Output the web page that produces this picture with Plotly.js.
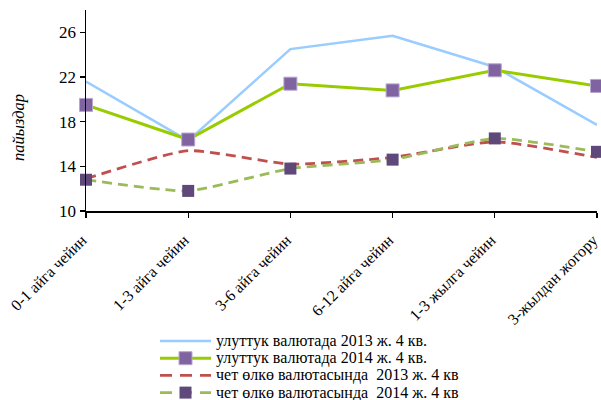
<!DOCTYPE html>
<html>
<head>
<meta charset="utf-8">
<script src="https://cdn.plot.ly/plotly-3.0.1.min.js"></script>
<style>
  html, body { margin: 0; padding: 0; background: #fff; }
  #chart { width: 601px; height: 400px; }
</style>
</head>
<body>
<div id="chart"></div>
<script>
// Maturity buckets
var categories = ['0-1 айга чейин', '1-3 айга чейин', '3-6 айга чейин',
                  '6-12 айга чейин', '1-3 жылга чейин', '3-жылдан жогору'];

// Interest rates, %
var national2013 = [21.6, 16.3, 24.5, 25.7, 22.9, 17.7];
var national2014 = [19.5, 16.4, 21.4, 20.8, 22.6, 21.2];
var foreign2013  = [12.9, 15.4, 14.2, 14.8, 16.2, 14.8];
var foreign2014  = [12.8, 11.8, 13.8, 14.6, 16.5, 15.3];

var seriesNames = [
  'улуттук валютада 2013 ж. 4 кв.',
  'улуттук валютада 2014 ж. 4 кв.',
  'чет өлкө валютасында  2013 ж. 4 кв',
  'чет өлкө валютасында  2014 ж. 4 кв'
];

var yTicks = [10, 14, 18, 22, 26];
var yTitle = 'пайыздар';

var FONT = 'Liberation Serif';
var DASH = '10px,6px';

var styles = [
  {line: {color: '#99CCFF', width: 2.5}, marker: null},
  {line: {color: '#99CC00', width: 3}, marker: {symbol: 'square', size: 13, color: '#8064A2', line: {color: '#B7A6CF', width: 1}}},
  {line: {color: '#C0504D', width: 2.8, dash: DASH, shape: 'spline', smoothing: 0.5}, marker: null},
  {line: {color: '#9BBB59', width: 2.8, dash: DASH, shape: 'spline', smoothing: 0.5}, marker: {symbol: 'square', size: 12, color: '#5F497A', line: {width: 0}}}
];

var seriesValues = [national2013, national2014, foreign2013, foreign2014];

var traces = seriesValues.map(function (vals, i) {
  var s = styles[i];
  var t = {
    x: categories, y: vals, name: seriesNames[i], type: 'scatter',
    mode: s.marker ? 'lines+markers' : 'lines',
    line: s.line, cliponaxis: false, showlegend: false
  };
  if (s.marker) t.marker = s.marker;
  return t;
});

// Plot area geometry in pixels (for placing the legend block below the axis)
var W = 601, H = 400;
var M = {l: 86, r: 4, t: 10, b: 189};
var plotW = W - M.l - M.r, plotH = H - M.t - M.b;
function px2x(px) { return (px - M.l) / plotW; }
function py2y(py) { return (H - M.b - py) / plotH; }

// Legend block: line sample, optional marker sample, label
var shapes = [], annotations = [];
var legX0 = 160, legX1 = 211, legTextX = 215, legY0 = 341, legStep = 17.2;
seriesNames.forEach(function (name, i) {
  var s = styles[i];
  var y = legY0 + i * legStep;
  shapes.push({
    type: 'line', xref: 'paper', yref: 'paper',
    x0: px2x(legX0), x1: px2x(legX1), y0: py2y(y), y1: py2y(y),
    line: {color: s.line.color, width: s.line.width, dash: s.line.dash ? '12px,8px' : 'solid'}
  });
  if (s.marker) {
    var h = s.marker.size / 2, cx = (legX0 + legX1) / 2;
    shapes.push({
      type: 'rect', xref: 'paper', yref: 'paper',
      x0: px2x(cx - h), x1: px2x(cx + h), y0: py2y(y - h), y1: py2y(y + h),
      fillcolor: s.marker.color,
      line: {color: s.marker.line.color || s.marker.color, width: s.marker.line.width || 0}
    });
  }
  annotations.push({
    xref: 'paper', yref: 'paper', x: px2x(legTextX), y: py2y(y),
    xanchor: 'left', yanchor: 'middle', showarrow: false, borderpad: 0,
    text: name, font: {family: FONT, size: 16, color: '#000'}
  });
});

// Vertical axis caption
annotations.push({
  xref: 'paper', yref: 'paper', x: px2x(18), y: py2y(128),
  xanchor: 'center', yanchor: 'middle', showarrow: false, textangle: -90,
  text: '<i>' + yTitle + '</i>', font: {family: FONT, size: 16.5, color: '#000'}
});

var layout = {
  width: W, height: H,
  margin: M,
  paper_bgcolor: '#fff', plot_bgcolor: '#fff',
  font: {family: FONT, size: 16, color: '#000'},
  showlegend: false,
  xaxis: {
    type: 'category', range: [0, 5], fixedrange: true,
    showgrid: false, zeroline: false,
    showline: true, linecolor: '#000', linewidth: 1.5,
    ticks: 'outside', ticklen: 5, tickwidth: 1.2, tickcolor: '#000',
    tickangle: -45, tickfont: {family: FONT, size: 16, color: '#000'},
    ticklabelstandoff: 7, ticklabelshift: -4,
    automargin: false
  },
  yaxis: {
    range: [10, 28], tickvals: yTicks, ticktext: yTicks.map(String),
    showgrid: false, zeroline: false,
    showline: true, linecolor: '#000', linewidth: 1.5,
    ticks: 'outside', ticklen: 5, tickwidth: 1.2, tickcolor: '#000',
    tickfont: {family: FONT, size: 17, color: '#000'},
    automargin: false
  },
  shapes: shapes,
  annotations: annotations
};

Plotly.newPlot('chart', traces, layout, {staticPlot: true, displayModeBar: false});
</script>
</body>
</html>
